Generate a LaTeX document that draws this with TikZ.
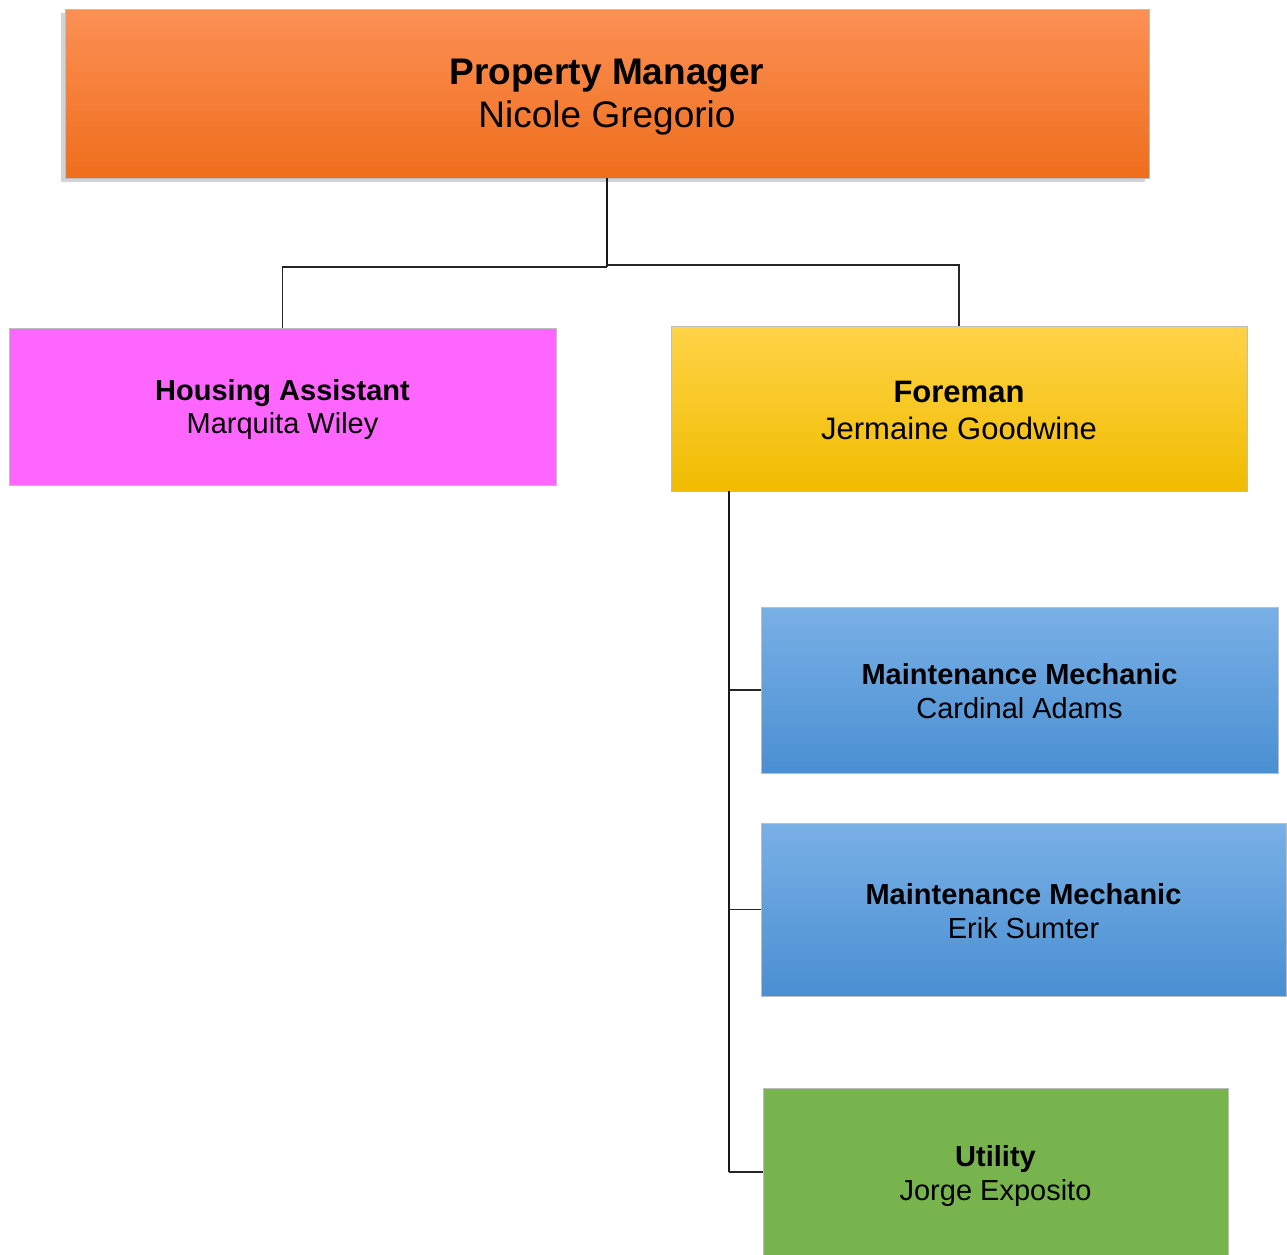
\documentclass[tikz,border=0pt]{standalone}
\usepackage{fontspec}
\setmainfont{Liberation Sans}
\usetikzlibrary{shadows}
\definecolor{orT}{HTML}{FC9055}
\definecolor{orM}{HTML}{FD8128}
\definecolor{orB}{HTML}{EF6E1C}
\definecolor{yeT}{HTML}{FFD347}
\definecolor{yeM}{HTML}{FFCC00}
\definecolor{yeB}{HTML}{F0BC00}
\definecolor{blT}{HTML}{79B0E6}
\definecolor{blM}{HTML}{5AA3E6}
\definecolor{blB}{HTML}{4A8FD2}
\definecolor{mag}{HTML}{FF66FF}
\definecolor{grn}{HTML}{78B44D}
\definecolor{edgec}{HTML}{BDBDBD}
\tikzset{
  x=1pt, y=-1pt,
  box/.style={draw=edgec, line width=0.8pt, inner sep=0pt},
  txt/.style={align=center, text=black, inner sep=0pt},
  orangebox/.style={box, top color=orT, middle color=orM, bottom color=orB,
     drop shadow={shadow xshift=-4pt, shadow yshift=-4pt, opacity=0.35, fill=gray}},
  yellowbox/.style={box, top color=yeT, middle color=yeM, bottom color=yeB},
  bluebox/.style={box, top color=blT, middle color=blM, bottom color=blB},
  magbox/.style={box, fill=mag},
  greenbox/.style={box, fill=grn},
  bigtxt/.style={txt, font=\fontsize{37}{43}\selectfont},
  midtxt/.style={txt, font=\fontsize{31}{37}\selectfont},
  smtxt/.style={txt, font=\fontsize{29}{34}\selectfont},
  conn/.style={draw=black!85, line width=1.3pt},
  thickconn/.style={draw=black!90, line width=2.2pt},
}
\begin{document}
\begin{tikzpicture}
\useasboundingbox (0,0) rectangle (1287,1254);
% boxes
\node[orangebox, minimum width=1084pt, minimum height=169pt] (pm) at (607,93.5) {};
\node[magbox, minimum width=547pt, minimum height=157pt] (ha) at (282.5,406.5) {};
\node[yellowbox, minimum width=576pt, minimum height=165pt] (fm) at (959,408.5) {};
\node[bluebox, minimum width=517pt, minimum height=166pt] (mm1) at (1019.5,690) {};
\node[bluebox, minimum width=525pt, minimum height=173pt] (mm2) at (1023.5,909.5) {};
\node[greenbox, minimum width=465pt, minimum height=168pt] (ut) at (995.5,1172) {};
% texts
\node[bigtxt] (pmt) at ([yshift=-4pt]pm.center) {\textbf{Property Manager}\\Nicole Gregorio};
\node[smtxt, font=\fontsize{29}{33}\selectfont] (hat) at ([yshift=-3pt]ha.center) {\textbf{Housing Assistant}\\Marquita Wiley};
\node[midtxt] (fmt) at ([yshift=-2pt]fm.center) {\textbf{Foreman}\\Jermaine Goodwine};
\node[smtxt] (mm1t) at ([yshift=-1pt]mm1.center) {\textbf{Maintenance Mechanic}\\Cardinal Adams};
\node[smtxt] (mm2t) at ([yshift=-2pt]mm2.center) {\textbf{Maintenance Mechanic}\\Erik Sumter};
\node[smtxt] (utt) at ([yshift=-4pt]ut.center) {\textbf{Utility}\\Jorge Exposito};
% connectors
\coordinate (j1) at (607,267);
\coordinate (j1b) at (607,265);
\coordinate (j2) at (729,1172);
\draw[thickconn] (pm.south) -- (j1);
\draw[conn] (j1) -| (ha.north);
\draw[conn] (j1b) -| (fm.north);
\draw[thickconn] (fm.south -| j2) -- (j2);
\draw[conn] (mm1.west -| j2) -- (mm1.west);
\draw[conn] (mm2.west -| j2) -- (mm2.west);
\draw[conn] (j2) -- (ut.west);
\end{tikzpicture}
\end{document}
